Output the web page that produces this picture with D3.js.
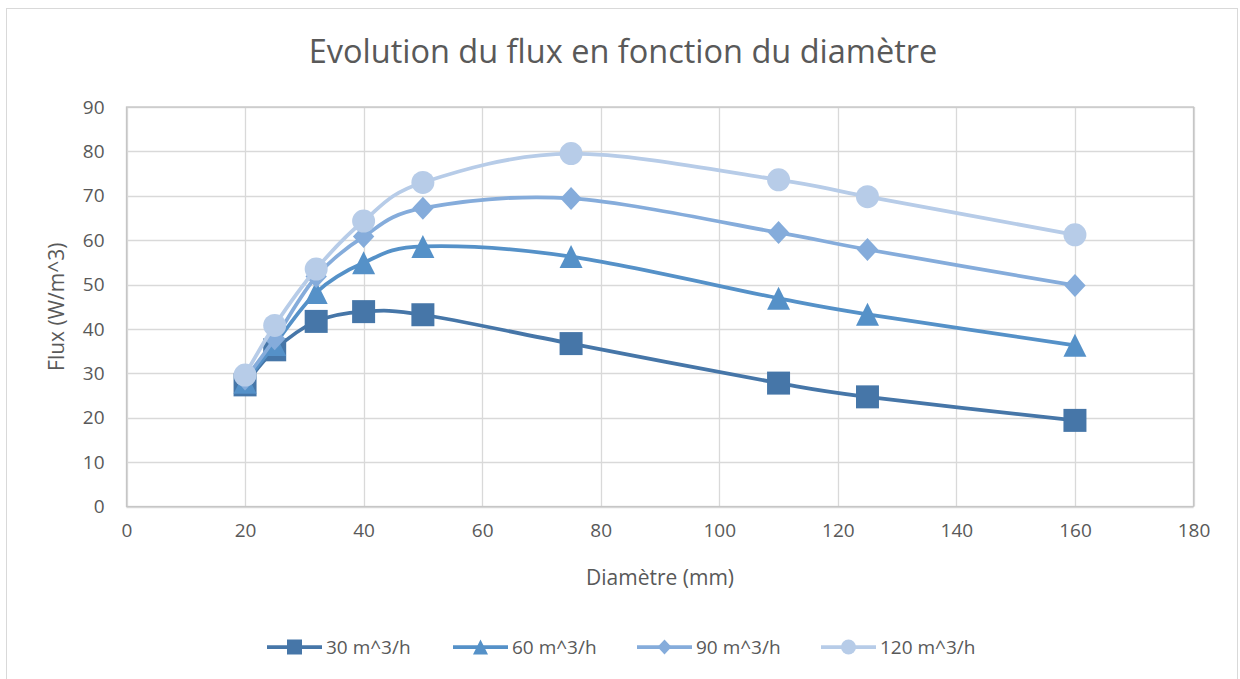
<!DOCTYPE html>
<html>
<head>
<meta charset="utf-8">
<script src="https://cdn.jsdelivr.net/npm/d3@7"></script>
<style>
  html, body { margin: 0; padding: 0; background: #ffffff; }
  svg { display: block; font-family: "Open Sans", "Noto Sans", sans-serif; }
</style>
</head>
<body>
<svg id="chart" width="1240" height="679"></svg>
<script>
// ---- Data ----
const title = "Evolution du flux en fonction du diamètre";
const xTitle = "Diamètre (mm)";
const yTitle = "Flux (W/m^3)";
const diameters = [20, 25, 32, 40, 50, 75, 110, 125, 160];
const seriesNames = ["30 m^3/h", "60 m^3/h", "90 m^3/h", "120 m^3/h"];
const flux30  = [27.4, 35.3, 41.7, 43.9, 43.2, 36.7, 27.8, 24.7, 19.4];
const flux60  = [28.0, 36.5, 48.2, 54.9, 58.6, 56.3, 46.9, 43.3, 36.3];
const flux90  = [28.7, 37.8, 51.8, 60.8, 67.2, 69.4, 61.7, 57.9, 49.8];
const flux120 = [29.6, 40.8, 53.5, 64.3, 73.0, 79.5, 73.6, 69.8, 61.2];
const xTicks = [0, 20, 40, 60, 80, 100, 120, 140, 160, 180];
const yTicks = [0, 10, 20, 30, 40, 50, 60, 70, 80, 90];

const seriesValues = [flux30, flux60, flux90, flux120];
const colors = ["#4676a8", "#5591c8", "#85acdb", "#b7cce8"];
const markerTypes = ["square", "triangle", "diamond", "circle"];

// ---- Layout ----
const svg = d3.select("#chart");
const plot = { left: 126.5, right: 1193.5, top: 107, bottom: 506.5 };
const textColor = "#595959";

// chart border
svg.append("rect").attr("x", 6.5).attr("y", 8.5).attr("width", 1231).attr("height", 690)
  .attr("fill", "#fff").attr("stroke", "#d9d9d9").attr("stroke-width", 1);

const x = d3.scaleLinear().domain([0, 180]).range([plot.left, plot.right]);
const y = d3.scaleLinear().domain([0, 90]).range([plot.bottom, plot.top]);

// gridlines
const g = svg.append("g");
g.selectAll("line.hg").data(yTicks).join("line")
  .attr("x1", plot.left).attr("x2", plot.right)
  .attr("y1", d => Math.round(y(d)) + 0.5).attr("y2", d => Math.round(y(d)) + 0.5)
  .attr("stroke", "#d9d9d9").attr("stroke-width", 1.3);
g.selectAll("line.vg").data(xTicks).join("line")
  .attr("y1", plot.top).attr("y2", plot.bottom)
  .attr("x1", d => Math.round(x(d)) + 0.5).attr("x2", d => Math.round(x(d)) + 0.5)
  .attr("stroke", "#d9d9d9").attr("stroke-width", 1.3);
// frame
svg.append("rect").attr("x", plot.left).attr("y", plot.top)
  .attr("width", plot.right - plot.left).attr("height", plot.bottom - plot.top)
  .attr("fill", "none").attr("stroke", "#c6c6c6").attr("stroke-width", 1.3);

// axes (labels only)
const xAxis = d3.axisBottom(x).tickValues(xTicks).tickSize(0).tickPadding(0);
const yAxis = d3.axisLeft(y).tickValues(yTicks).tickSize(0).tickPadding(0);
const gx = svg.append("g").attr("transform", `translate(0,${plot.bottom + 24})`).call(xAxis);
const gy = svg.append("g").attr("transform", `translate(${plot.left - 22},0)`).call(yAxis);
[gx, gy].forEach(a => {
  a.select(".domain").remove();
  a.selectAll("text").attr("fill", textColor).style("font-size", "19px")
    .style("font-family", '"Open Sans", sans-serif');
});
gx.selectAll("text").attr("dy", "0.35em");

// titles
svg.append("text").attr("x", 623).attr("y", 63).attr("text-anchor", "middle")
  .attr("fill", textColor).style("font-size", "32.5px").text(title);
svg.append("text").attr("x", (plot.left + plot.right) / 2).attr("y", 585).attr("text-anchor", "middle")
  .attr("fill", textColor).style("font-size", "21px").text(xTitle);
svg.append("text").attr("transform", `translate(64,${(plot.top + plot.bottom) / 2}) rotate(-90)`)
  .attr("text-anchor", "middle").attr("fill", textColor).style("font-size", "21px").text(yTitle);

// markers
function markerPath(type, s) {
  const h = s / 2;
  if (type === "square") return `M${-h},${-h}H${h}V${h}H${-h}Z`;
  if (type === "triangle") return `M0,${-h}L${h},${h}L${-h},${h}Z`;
  if (type === "diamond") return `M0,${-h}L${h * 0.93},0L0,${h}L${-h * 0.93},0Z`;
  return d3.arc()({ innerRadius: 0, outerRadius: h, startAngle: 0, endAngle: 2 * Math.PI });
}

const line = d3.line().x(d => x(d[0])).y(d => y(d[1])).curve(d3.curveCatmullRom.alpha(0));

seriesValues.forEach((vals, i) => {
  const pts = diameters.map((d, j) => [d, vals[j]]);
  const sg = svg.append("g");
  sg.append("path").attr("d", line(pts)).attr("fill", "none")
    .attr("stroke", colors[i]).attr("stroke-width", 3.75).attr("stroke-linecap", "round");
  sg.selectAll("path.m").data(pts).join("path").attr("class", "m")
    .attr("transform", d => `translate(${x(d[0])},${y(d[1])})`)
    .attr("d", markerPath(markerTypes[i], 23))
    .attr("fill", colors[i]);
});

// legend
const legendStarts = [267, 453, 637, 821];
const ly = 647;
seriesNames.forEach((name, i) => {
  const lg = svg.append("g").attr("transform", `translate(${legendStarts[i]},${ly})`);
  lg.append("line").attr("x1", 0).attr("x2", 55).attr("y1", 0).attr("y2", 0)
    .attr("stroke", colors[i]).attr("stroke-width", 3.75);
  lg.append("path").attr("transform", "translate(27.5,0)")
    .attr("d", markerPath(markerTypes[i], 15)).attr("fill", colors[i]);
  lg.append("text").attr("x", 59).attr("y", 0).attr("dy", "0.35em")
    .attr("fill", textColor).style("font-size", "19px").text(name);
});
</script>
</body>
</html>
